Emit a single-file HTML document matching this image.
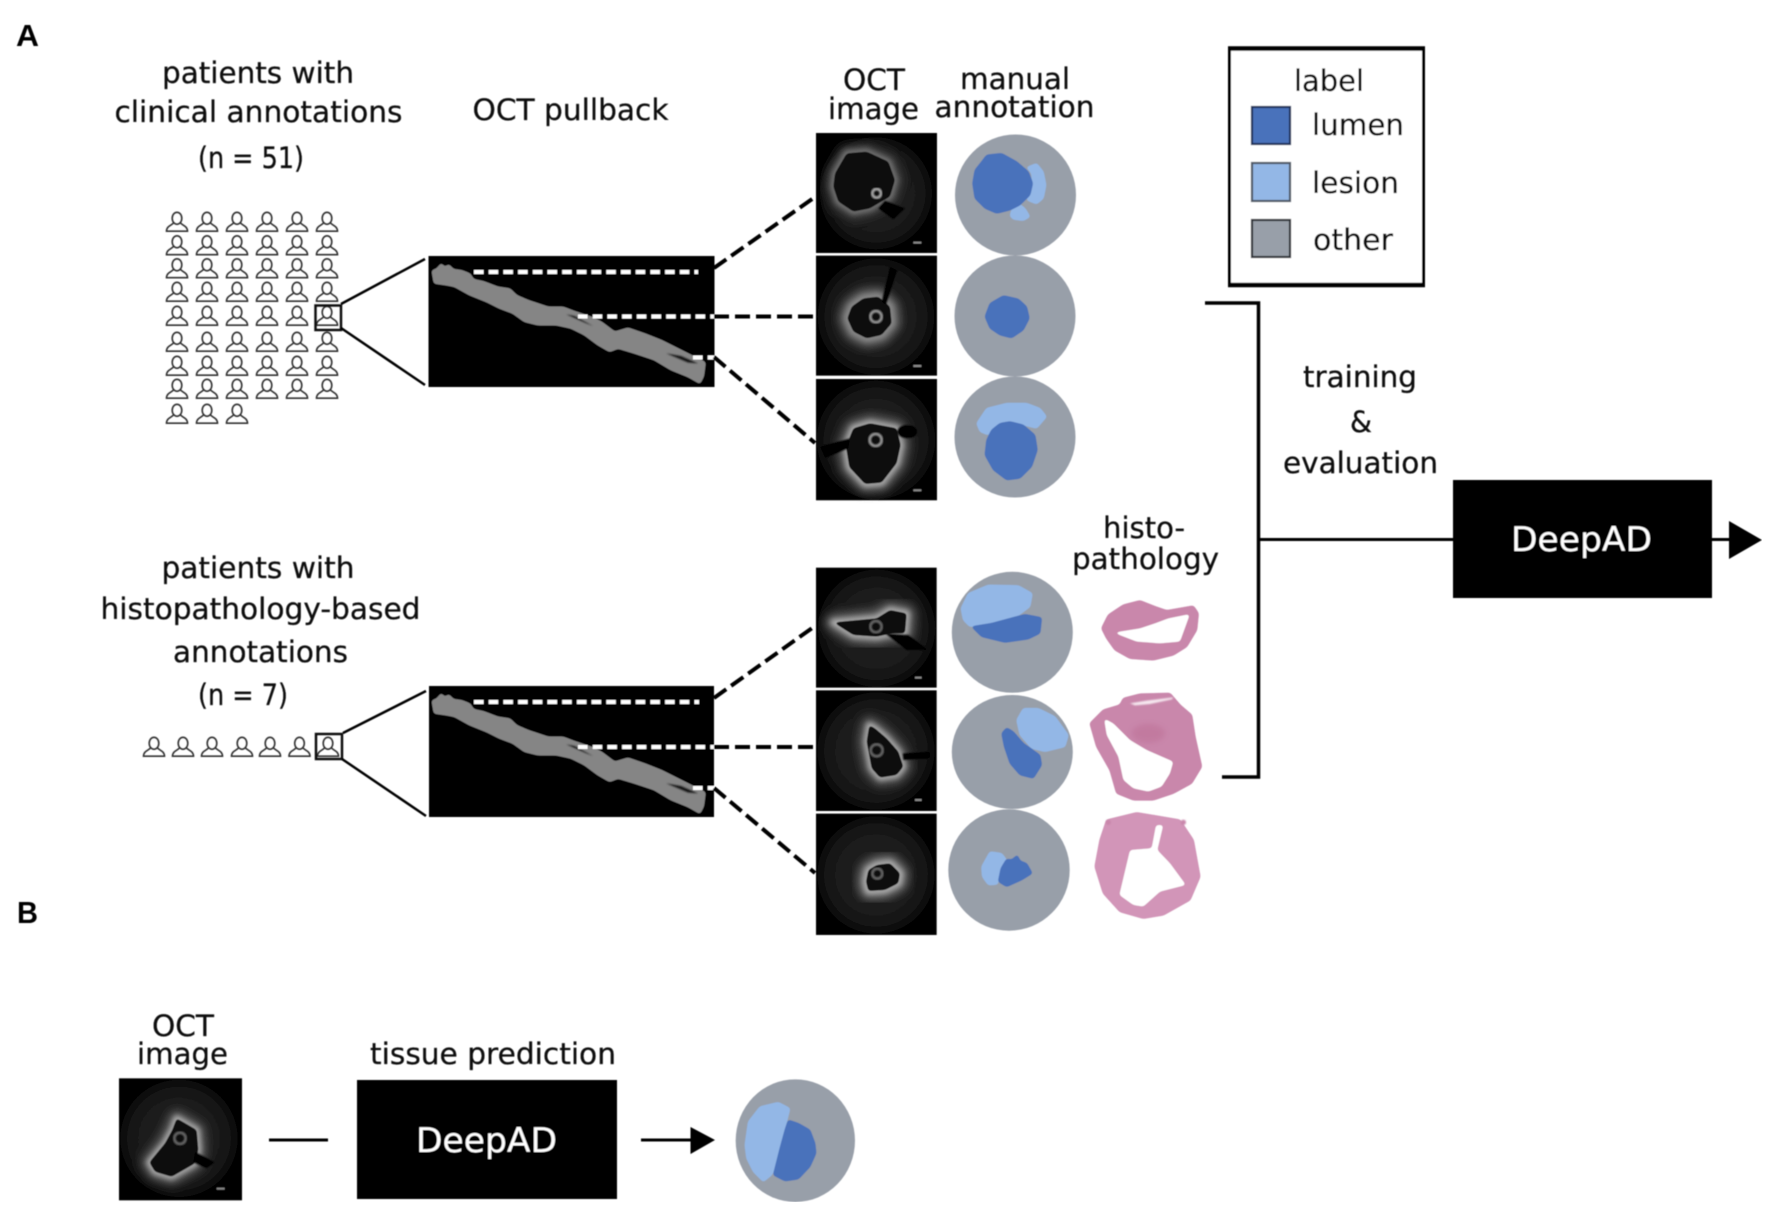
<!DOCTYPE html>
<html><head><meta charset="utf-8"><style>
html,body{margin:0;padding:0;background:#fff;width:1772px;height:1213px;overflow:hidden}
svg{display:block}
text{font-family:"DejaVu Sans","Liberation Sans",sans-serif;font-size:29.5px;fill:#0c0c0c;stroke:#0c0c0c;stroke-width:.25}
.w{fill:#fff;stroke:none;font-size:34px}
.h{font-family:"Liberation Sans",sans-serif;font-weight:bold;font-size:31px;fill:#000;stroke:none}
.g{fill:#989fa9}.b{fill:#4a72bb;stroke:#4a72bb;stroke-width:3;filter:url(#rd)}.l{fill:#93b7e6;stroke:#93b7e6;stroke-width:3;filter:url(#rd)}
.tk{fill:#070707;filter:url(#rd)}
.g1{fill:none;stroke:#5a5a5a;stroke-width:50;stroke-linejoin:round;filter:url(#bl)}
.g2{fill:none;stroke:#b0b0b0;stroke-width:18;stroke-linejoin:round;filter:url(#bm)}
.cat{fill:none;stroke:#7c7c7c;stroke-width:8;filter:url(#b3)}
.p1{fill:#c987ab;stroke:#c987ab;stroke-width:4;filter:url(#rd)}
.p2{fill:#b8688f;filter:url(#bm);opacity:.4}
.hole{fill:#fff;filter:url(#rd)}
.ln{stroke:#000;fill:none}
.sh{fill:#040404;filter:url(#b3)}
.lb{fill:#8a8a8a}
</style></head><body>
<svg width="1772" height="1213" viewBox="0 0 1772 1213" xmlns="http://www.w3.org/2000/svg">
<defs>
<filter id="soft" x="0" y="0" width="100%" height="100%"><feGaussianBlur stdDeviation=".6"/></filter>
<filter id="bl" x="-40%" y="-40%" width="180%" height="180%"><feGaussianBlur stdDeviation="15"/></filter>
<filter id="bm" x="-30%" y="-30%" width="160%" height="160%"><feGaussianBlur stdDeviation="8"/></filter>
<filter id="b3" x="-10%" y="-10%" width="120%" height="120%"><feGaussianBlur stdDeviation="2"/></filter>
<filter id="rd" x="-15%" y="-15%" width="130%" height="130%"><feGaussianBlur stdDeviation="5"/><feComponentTransfer><feFuncA type="linear" slope="7" intercept="-3"/></feComponentTransfer><feGaussianBlur stdDeviation="1"/></filter>
<radialGradient id="rg"><stop offset="0" stop-color="#222"/><stop offset=".75" stop-color="#191919"/><stop offset="1" stop-color="#0b0b0b"/></radialGradient>
<g id="pr" fill="none" stroke="#333" stroke-width="1.6">
<ellipse cx="0" cy="6.300" rx="4.800" ry="6"/>
<path d="M-3.500 10.600 C-4 13 -10.500 13.500 -10.500 19.200 L10.500 19.200 C10.500 13.500 4 13 3.500 10.600"/>
</g>
<g id="vessel">
<polygon fill="#858585" stroke="#858585" stroke-width="7" filter="url(#rd)" points="14,45 28,40 40,25 50,38 62,28 75,42 100,45 125,55 135,72 165,78 210,95 245,100 265,120 300,135 360,155 405,155 445,170 490,185 520,200 560,230 600,218 650,235 700,255 750,280 830,320 825,360 815,380 780,360 730,340 680,310 620,290 570,275 545,285 510,265 470,235 430,215 385,205 330,205 290,195 255,170 215,155 175,135 125,115 80,90 55,85 20,80"/>
<polygon fill="#151515" filter="url(#b3)" points="415,175 440,180 495,210 470,200"/>
<polygon fill="#151515" filter="url(#b3)" points="715,292 760,300 810,322 780,320"/>
</g>
<polygon id="L1" points="75,130 110,70 170,65 235,95 255,150 240,200 205,220 180,235 130,245 85,215 70,170"/>
<polygon id="L2" points="125,530 160,505 205,500 240,530 245,580 215,615 170,625 130,605 112,565"/>
<polygon id="L3" points="130,895 180,880 260,895 272,945 260,1000 215,1058 165,1062 118,1012 108,950"/>
<polygon id="L4" points="70,172 200,160 240,135 290,145 285,205 245,205 200,215 130,210"/>
<polygon id="L5" points="178,480 195,490 230,520 265,560 280,605 260,630 210,638 185,610 170,530"/>
<polygon id="L6" points="200,900 240,895 270,925 265,955 225,975 175,978 168,950 175,915"/>
<polygon id="L7" points="185,130 245,165 250,225 240,265 170,305 120,290 103,262 150,205 172,165"/>
</defs>
<rect width="1772" height="1213" fill="#fff"/>
<g filter="url(#soft)">

<text class="h" x="16" y="46" textLength="23" lengthAdjust="spacingAndGlyphs">A</text>
<text class="h" x="17" y="923" textLength="21" lengthAdjust="spacingAndGlyphs">B</text>

<text x="162" y="83" textLength="192" lengthAdjust="spacingAndGlyphs">patients with</text>
<text x="114.500" y="122" textLength="288" lengthAdjust="spacingAndGlyphs">clinical annotations</text>
<text x="198" y="168" textLength="106" lengthAdjust="spacingAndGlyphs">(n = 51)</text>
<text x="472.500" y="120" textLength="196" lengthAdjust="spacingAndGlyphs">OCT pullback</text>
<text x="843" y="90" textLength="62" lengthAdjust="spacingAndGlyphs">OCT</text>
<text x="828" y="119" textLength="91" lengthAdjust="spacingAndGlyphs">image</text>
<text x="960" y="89" textLength="110" lengthAdjust="spacingAndGlyphs">manual</text>
<text x="934.500" y="117" textLength="160" lengthAdjust="spacingAndGlyphs">annotation</text>

<g id="row1"><use href="#pr" x="177" y="212"/><use href="#pr" x="207" y="212"/><use href="#pr" x="237" y="212"/><use href="#pr" x="267" y="212"/><use href="#pr" x="297" y="212"/><use href="#pr" x="327" y="212"/></g>
<use href="#row1" y="23.500"/><use href="#row1" y="46.500"/><use href="#row1" y="70"/><use href="#row1" y="94"/><use href="#row1" y="120"/><use href="#row1" y="144"/><use href="#row1" y="167"/>
<use href="#pr" x="177" y="404"/><use href="#pr" x="207" y="404"/><use href="#pr" x="237" y="404"/>
<rect x="315.500" y="305.500" width="25.500" height="24.500" fill="none" stroke="#111" stroke-width="2.500"/>
<path class="ln" stroke-width="2.500" d="M341 304 L425 259 M341 328 L425 385"/>

<rect x="428.500" y="256" width="286" height="131" fill="#000"/>
<g transform="translate(428 256) scale(.3333)"><use href="#vessel"/></g>
<path stroke="#fff" stroke-width="4" fill="none" stroke-dasharray="9.500 5.200" d="M474 272 H698 M578 316.500 H714 M693 357.500 H714"/>
<path class="ln" stroke-width="4" stroke-dasharray="15 6" d="M714 268 L815 197 M714 316.500 H816 M714 357 L815 443"/>

<text x="161.500" y="578" textLength="193" lengthAdjust="spacingAndGlyphs">patients with</text>
<text x="100.500" y="619" textLength="320" lengthAdjust="spacingAndGlyphs">histopathology-based</text>
<text x="173" y="662" textLength="175" lengthAdjust="spacingAndGlyphs">annotations</text>
<text x="198" y="705" textLength="90" lengthAdjust="spacingAndGlyphs">(n = 7)</text>
<use href="#pr" x="154" y="737"/><use href="#pr" x="183" y="737"/><use href="#pr" x="212" y="737"/><use href="#pr" x="242" y="737"/><use href="#pr" x="270" y="737"/><use href="#pr" x="299.500" y="737"/><use href="#pr" x="328" y="737"/>
<rect x="316" y="734" width="26" height="25" fill="none" stroke="#111" stroke-width="2.500"/>
<path class="ln" stroke-width="2.500" d="M343 733 L426 691 M342 759 L426 816"/>

<rect x="429" y="686" width="285" height="131" fill="#000"/>
<g transform="translate(428 686) scale(.3333)"><use href="#vessel"/></g>
<path stroke="#fff" stroke-width="4" fill="none" stroke-dasharray="9.500 5.200" d="M474 702 H699 M578 747 H714 M693 788 H714"/>
<path class="ln" stroke-width="4" stroke-dasharray="15 6" d="M714 698 L815 626 M714 747 H816 M714 788 L815 873"/>

<!-- OCT upper -->
<g transform="translate(810 130) scale(.3333)">
<rect x="18" y="9" width="363" height="360" fill="#000"/>
<circle cx="198" cy="190" r="168" fill="url(#rg)"/>
<use href="#L1" class="g1" style="stroke:#3c3c3c"/><use href="#L1" class="g2" style="stroke:#777"/><use href="#L1" class="tk"/>
<polygon class="sh" points="225,212 285,235 250,268 205,235"/>
<circle class="cat" cx="200" cy="190" r="13" style="stroke:#aaa"/>
<rect class="lb" x="310" y="335" width="24" height="6"/>
<rect x="18" y="377" width="363" height="360" fill="#000"/>
<circle cx="198" cy="560" r="175" fill="url(#rg)"/>
<use href="#L2" class="g1" style="stroke:#707070"/><use href="#L2" class="g2" style="stroke:#8a8a8a"/><use href="#L2" class="tk"/>
<polygon class="sh" points="215,515 240,410 262,420 228,525"/>
<circle class="cat" cx="198" cy="560" r="17" style="stroke:#999"/>
<rect class="lb" x="310" y="705" width="24" height="6"/>
<rect x="18" y="747" width="363" height="364" fill="#000"/>
<circle cx="198" cy="930" r="178" fill="url(#rg)"/>
<use href="#L3" class="g1" style="stroke:#666"/><use href="#L3" class="g2"/><use href="#L3" class="tk"/>
<polygon class="sh" points="30,950 120,925 115,955 45,985"/>
<ellipse class="sh" cx="292" cy="905" rx="30" ry="20"/>
<circle class="cat" cx="197" cy="930" r="18" style="stroke:#999"/>
<rect class="lb" x="310" y="1078" width="24" height="6"/>
</g>

<!-- OCT lower -->
<g transform="translate(810 565) scale(.3333)">
<rect x="18" y="8" width="362" height="360" fill="#000"/>
<circle cx="200" cy="190" r="176" fill="url(#rg)"/>
<use href="#L4" class="g1" style="stroke:#666"/><use href="#L4" class="g2"/><use href="#L4" class="tk"/>
<polygon class="sh" points="225,205 295,210 355,255 290,255"/>
<circle class="cat" cx="198" cy="185" r="17" style="stroke:#666"/>
<rect class="lb" x="315" y="335" width="20" height="6"/>
<rect x="18" y="376" width="362" height="362" fill="#000"/>
<circle cx="198" cy="558" r="176" fill="url(#rg)"/>
<use href="#L5" class="g1"/><use href="#L5" class="g2"/><use href="#L5" class="tk"/>
<polygon class="sh" points="278,565 360,560 360,580 280,585"/>
<circle class="cat" cx="200" cy="556" r="18" style="stroke:#666"/>
<rect class="lb" x="315" y="702" width="20" height="6"/>
<rect x="18" y="746" width="362" height="364" fill="#000"/>
<circle cx="198" cy="930" r="176" fill="url(#rg)"/>
<use href="#L6" class="g1" style="stroke:#777"/><use href="#L6" class="g2"/><use href="#L6" class="tk"/>
<circle class="cat" cx="202" cy="926" r="15" style="stroke:#666"/>
</g>

<!-- annotation circles top -->
<circle class="g" cx="1015.500" cy="195" r="60.500"/>
<circle class="g" cx="1015" cy="316" r="60.500"/>
<circle class="g" cx="1015" cy="437" r="60.500"/>
<g transform="translate(810 130) scale(.3333)">
<polygon class="l" points="650,112 680,100 700,125 708,165 700,205 680,222 650,210 668,170 665,130"/>
<polygon class="l" points="605,240 625,220 645,235 660,260 640,272 610,268 600,258"/>
<polygon class="b" points="530,75 575,70 620,95 655,125 668,160 660,195 630,225 600,240 560,250 525,235 495,205 488,160 495,120 515,95"/>
<polygon class="b" points="580,497 625,507 650,530 658,565 640,600 605,624 570,615 540,595 525,560 540,520"/>
<polygon class="l" points="500,880 530,835 590,820 650,820 690,835 710,860 680,895 660,890 600,875 560,885 535,915 510,905"/>
<polygon class="b" points="600,875 640,885 675,915 682,960 665,1010 630,1045 590,1050 550,1020 525,975 530,930 545,900 570,880"/>
</g>

<!-- annotation circles lower -->
<circle class="g" cx="1012.300" cy="632.300" r="60.500"/>
<ellipse class="g" cx="1012.300" cy="752" rx="60.500" ry="57"/>
<circle class="g" cx="1009" cy="870" r="60.700"/>
<g transform="translate(945 565) scale(.3333)">
<polygon class="l" points="48,130 70,85 130,60 220,62 262,85 255,125 215,155 140,175 75,185 55,165"/>
<polygon class="b" points="80,185 140,175 215,155 240,148 290,158 285,205 250,222 180,232 110,215"/>
<polygon class="l" points="215,465 235,430 280,430 330,455 370,510 360,545 300,560 260,550 225,510"/>
<polygon class="b" points="170,505 185,488 205,500 235,535 285,570 290,600 265,640 225,630 195,595 178,545"/>
<polygon class="l" points="110,905 135,860 170,865 185,885 165,915 158,958 130,960 112,935"/>
<polygon class="b" points="185,882 200,885 217,870 225,888 245,895 262,925 230,945 185,965 160,950 168,910"/>
</g>

<!-- histology -->
<g transform="translate(1080 590) scale(.3333)">
<polygon class="p1" points="65,115 85,75 130,45 180,32 225,50 260,62 340,48 355,70 350,120 320,170 280,195 220,210 150,205 105,180 80,145"/>
<polygon class="hole" points="100,128 180,115 225,100 265,85 330,72 300,155 240,160 170,155"/>
<polygon class="p1" points="30,400 70,360 120,345 130,325 180,312 270,310 300,345 335,375 345,440 365,530 335,580 280,610 220,630 160,630 110,610 90,540 50,470"/>
<polygon class="hole" points="72,385 100,400 150,450 200,480 280,515 270,550 245,590 205,605 160,595 130,570 115,500 80,435"/>
<ellipse class="p2" cx="205" cy="430" rx="50" ry="28"/>
<polygon fill="#f6e8f0" filter="url(#b3)" points="150,340 200,332 280,322 275,328 210,342 165,346"/>
<polygon class="p1" style="fill:#d295b8;stroke:#d295b8" points="80,690 170,668 300,690 340,750 360,860 330,930 250,975 190,985 120,965 70,910 45,830 60,750"/>
<polygon class="hole" points="228,705 250,705 232,780 270,820 318,885 240,905 190,950 160,945 118,915 150,780 215,775"/>
<circle cx="85" cy="697" r="8" fill="#c987ab" filter="url(#b3)"/>
<circle cx="310" cy="697" r="8" fill="#c987ab" filter="url(#b3)"/>
</g>
<text x="1103" y="538" textLength="82" lengthAdjust="spacingAndGlyphs">histo-</text>
<text x="1072" y="569" textLength="147" lengthAdjust="spacingAndGlyphs">pathology</text>

<!-- legend -->
<rect x="1229.500" y="48" width="194" height="237" fill="#fff" stroke="#000" stroke-width="3"/>
<path class="ln" stroke-width="4.500" d="M1228 48.500 H1425 M1228 285 H1425"/>
<text x="1294" y="91" textLength="70" lengthAdjust="spacingAndGlyphs">label</text>
<rect x="1252" y="107" width="38" height="37" fill="#4a72bb" stroke="#24365c" stroke-width="2.200"/>
<rect x="1252" y="163" width="38" height="38" fill="#93b7e6" stroke="#4f5866" stroke-width="2.200"/>
<rect x="1252" y="220" width="38" height="37" class="g" stroke="#33363b" stroke-width="2.200"/>
<text x="1312" y="135" textLength="92" lengthAdjust="spacingAndGlyphs">lumen</text>
<text x="1312" y="193" textLength="87" lengthAdjust="spacingAndGlyphs">lesion</text>
<text x="1313" y="250" textLength="80" lengthAdjust="spacingAndGlyphs">other</text>

<!-- bracket -->
<path class="ln" stroke-width="3.500" d="M1205 303 H1258.500 V777 H1222"/>
<path class="ln" stroke-width="3" d="M1258.500 539.500 H1453"/>
<text x="1303" y="387" textLength="114" lengthAdjust="spacingAndGlyphs">training</text>
<text x="1350" y="432" textLength="22" lengthAdjust="spacingAndGlyphs">&amp;</text>
<text x="1283" y="473" textLength="155" lengthAdjust="spacingAndGlyphs">evaluation</text>
<rect x="1453" y="480" width="259" height="118" fill="#000"/>
<text class="w" x="1511" y="551" textLength="141" lengthAdjust="spacingAndGlyphs">DeepAD</text>
<path class="ln" stroke-width="3" d="M1712 539.500 H1730"/>
<polygon points="1729,521 1762,540 1729,559" fill="#000"/>

<!-- panel B -->
<text x="152" y="1036" textLength="62" lengthAdjust="spacingAndGlyphs">OCT</text>
<text x="137" y="1064" textLength="91" lengthAdjust="spacingAndGlyphs">image</text>
<text x="370" y="1064" textLength="246" lengthAdjust="spacingAndGlyphs">tissue prediction</text>
<g transform="translate(115 1075) scale(.3333)">
<rect x="12" y="10" width="368" height="365" fill="#000"/>
<circle cx="192" cy="190" r="176" fill="url(#rg)"/>
<use href="#L7" class="g1"/><use href="#L7" class="g2"/><use href="#L7" class="tk"/>
<polygon class="sh" points="240,230 300,262 275,280 235,262"/>
<circle class="cat" cx="195" cy="190" r="17" style="stroke:#666"/>
<rect class="lb" x="305" y="338" width="24" height="6"/>
</g>
<g transform="translate(730 1075) scale(.3333)">
<ellipse class="g" cx="196" cy="197" rx="179" ry="184"/>
<polygon class="l" points="45,210 55,140 90,95 145,82 180,100 170,140 155,200 135,280 125,300 100,320 70,290 50,250"/>
<polygon class="b" points="175,135 205,145 240,165 255,205 258,235 240,275 205,312 165,318 130,300 150,220 165,165"/>
</g>
<path class="ln" stroke-width="3" d="M269 1140 H328 M641 1140 H692"/>
<rect x="357" y="1080" width="260" height="119" fill="#000"/>
<text class="w" x="416" y="1152" textLength="141" lengthAdjust="spacingAndGlyphs">DeepAD</text>
<polygon points="690.500,1127 715,1140 690.500,1154" fill="#000"/>
</g>
</svg>
</body></html>
